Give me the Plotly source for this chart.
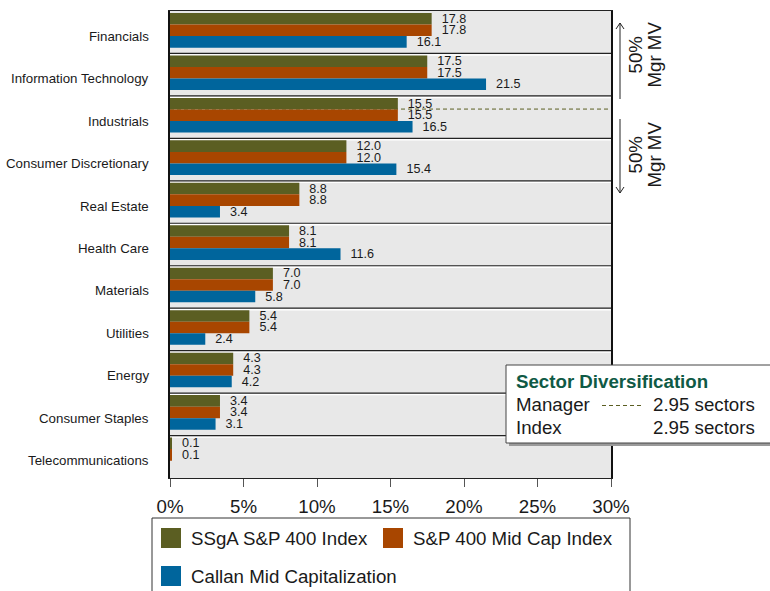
import plotly.graph_objects as go

categories = ["Financials", "Information Technology", "Industrials", "Consumer Discretionary",
              "Real Estate", "Health Care", "Materials", "Utilities", "Energy",
              "Consumer Staples", "Telecommunications"]
ssga = [17.8, 17.5, 15.5, 12.0, 8.8, 8.1, 7.0, 5.4, 4.3, 3.4, 0.1]
sp400 = [17.8, 17.5, 15.5, 12.0, 8.8, 8.1, 7.0, 5.4, 4.3, 3.4, 0.1]
callan = [16.1, 21.5, 16.5, 15.4, 3.4, 11.6, 5.8, 2.4, 4.2, 3.1, None]
series_names = ["SSgA S&P 400 Index", "S&P 400 Mid Cap Index", "Callan Mid Capitalization"]
colors = ["#5B5E22", "#A84600", "#00659C"]
x_ticks = [0, 5, 10, 15, 20, 25, 30]
manager_sectors = "2.95 sectors"
index_sectors = "2.95 sectors"

FONT = "Liberation Sans, Arial, sans-serif"
TXT = "#1a1a1a"
W, H = 770, 591
L, R, T, B = 170, 611, 11, 478


def px(x):
    return (x - L) / (R - L)


def py(y):
    return (B - y) / (B - T)


fig = go.Figure()
NB = "\u00a0\u00a0"
bar_w = 0.272
offsets = [-0.453, -0.181, 0.091]
for name, vals, col, off in zip(series_names, [ssga, sp400, callan], colors, offsets):
    fig.add_trace(go.Bar(
        y=categories, x=vals, orientation="h", name=name,
        width=bar_w, offset=off,
        marker=dict(color=col, line=dict(width=0)),
        text=[(NB + f"{v:.1f}") if v is not None else "" for v in vals],
        textposition="outside", cliponaxis=False, constraintext="none",
        textfont=dict(family=FONT, size=12.6, color=TXT),
        showlegend=False, hoverinfo="skip",
    ))

shapes = []
# category separators
for i in range(len(categories) - 1):
    b = i + 0.5
    shapes.append(dict(type="line", xref="x", yref="y", x0=0, x1=30, y0=b + 0.035, y1=b + 0.035,
                       line=dict(color="white", width=1.5), layer="below"))
    shapes.append(dict(type="line", xref="x", yref="y", x0=0, x1=30, y0=b, y1=b,
                       line=dict(color="#222", width=1.2), layer="below"))
# 50% manager MV dashed line (within Industrials)
shapes.append(dict(type="line", xref="x", yref="y", x0=0, x1=30, y0=1.81, y1=1.81,
                   line=dict(color="#5B5E22", width=1, dash="4px,3px"), layer="below"))

# arrows on the right
ax = 620
def seg(x0, y0, x1, y1, color="#222", w=1):
    return dict(type="line", xref="paper", yref="paper", x0=px(x0), y0=py(y0), x1=px(x1), y1=py(y1),
                line=dict(color=color, width=w))

shapes += [seg(ax, 23, ax, 99), seg(ax - 4, 29, ax, 23), seg(ax + 4, 29, ax, 23),
           seg(ax, 119, ax, 193), seg(ax - 4, 187, ax, 193), seg(ax + 4, 187, ax, 193)]

# sector diversification box (shadow + box)
shapes.append(dict(type="rect", xref="paper", yref="paper", x0=px(509), x1=px(775), y0=py(368), y1=py(446),
                   fillcolor="#9a9a9a", line=dict(width=0)))
shapes.append(dict(type="rect", xref="paper", yref="paper", x0=px(506), x1=px(772), y0=py(365), y1=py(443),
                   fillcolor="white", line=dict(color="#444", width=1)))
shapes.append(dict(type="line", xref="paper", yref="paper", x0=px(602), x1=px(643), y0=py(405.5), y1=py(405.5),
                   line=dict(color="#5B5E22", width=1, dash="4px,3px")))

# manual legend
shapes.append(dict(type="rect", xref="paper", yref="paper", x0=px(152), x1=px(630), y0=py(518), y1=py(600),
                   fillcolor="white", line=dict(color="#333", width=1)))
leg_pos = [(161, 538), (383, 538), (161, 576)]
for (lx, ly), col in zip(leg_pos, colors):
    shapes.append(dict(type="rect", xref="paper", yref="paper", x0=px(lx), x1=px(lx + 20),
                       y0=py(ly - 10), y1=py(ly + 10), fillcolor=col, line=dict(width=0)))

annotations = []
# category labels (slightly below band centre, as in the reference)
for cat in categories:
    annotations.append(dict(xref="paper", yref="y", x=px(151), y=cat, text=cat, yshift=-4,
                            showarrow=False, xanchor="right", yanchor="middle",
                            font=dict(family=FONT, size=13.3, color=TXT)))

for (lx, ly), name in zip(leg_pos, series_names):
    annotations.append(dict(xref="paper", yref="paper", x=px(lx + 28), y=py(ly), text=name,
                            showarrow=False, xanchor="left", yanchor="middle",
                            font=dict(family=FONT, size=18.7, color=TXT)))

for cy in (55, 155):
    annotations.append(dict(xref="paper", yref="paper", x=px(634.5), y=py(cy), text="50%", textangle=-90,
                            showarrow=False, xanchor="center", yanchor="middle",
                            font=dict(family=FONT, size=18.7, color=TXT)))
    annotations.append(dict(xref="paper", yref="paper", x=px(653.5), y=py(cy), text="Mgr MV", textangle=-90,
                            showarrow=False, xanchor="center", yanchor="middle",
                            font=dict(family=FONT, size=18.7, color=TXT)))

annotations.append(dict(xref="paper", yref="paper", x=px(514), y=py(381), text="<b>Sector Diversification</b>",
                        showarrow=False, xanchor="left", yanchor="middle",
                        font=dict(family=FONT, size=18.7, color="#0f5a45")))
for label, val, cy in (("Manager", manager_sectors, 404), ("Index", index_sectors, 427)):
    annotations.append(dict(xref="paper", yref="paper", x=px(514), y=py(cy), text=label,
                            showarrow=False, xanchor="left", yanchor="middle",
                            font=dict(family=FONT, size=18.7, color=TXT)))
    annotations.append(dict(xref="paper", yref="paper", x=px(651), y=py(cy), text=val,
                            showarrow=False, xanchor="left", yanchor="middle",
                            font=dict(family=FONT, size=18.7, color=TXT)))

fig.update_layout(
    width=W, height=H,
    margin=dict(l=L, r=W - R, t=T, b=H - B, pad=0, autoexpand=False),
    paper_bgcolor="white", plot_bgcolor="#E8E8E8",
    barmode="group",
    font=dict(family=FONT, color=TXT),
    shapes=shapes, annotations=annotations,
    xaxis=dict(range=[0, 30], tickvals=x_ticks, ticktext=[f"{v}%" for v in x_ticks],
               showgrid=False, zeroline=False, showline=True, linecolor="#222", linewidth=1,
               mirror=True, ticks="outside", ticklen=8, tickcolor="#555", automargin=False,
               ticklabelstandoff=4,
               tickfont=dict(family=FONT, size=18.7, color=TXT), fixedrange=True),
    yaxis=dict(categoryorder="array", categoryarray=categories, autorange="reversed",
               showticklabels=False,
               showgrid=False, zeroline=False, showline=True, linecolor="#111", linewidth=1.5,
               mirror=True, ticks="", automargin=False, fixedrange=True),
)

fig.write_html("out.html", config={"displayModeBar": False},
               post_script="document.body.style.margin='0';document.body.style.overflow='hidden';")
